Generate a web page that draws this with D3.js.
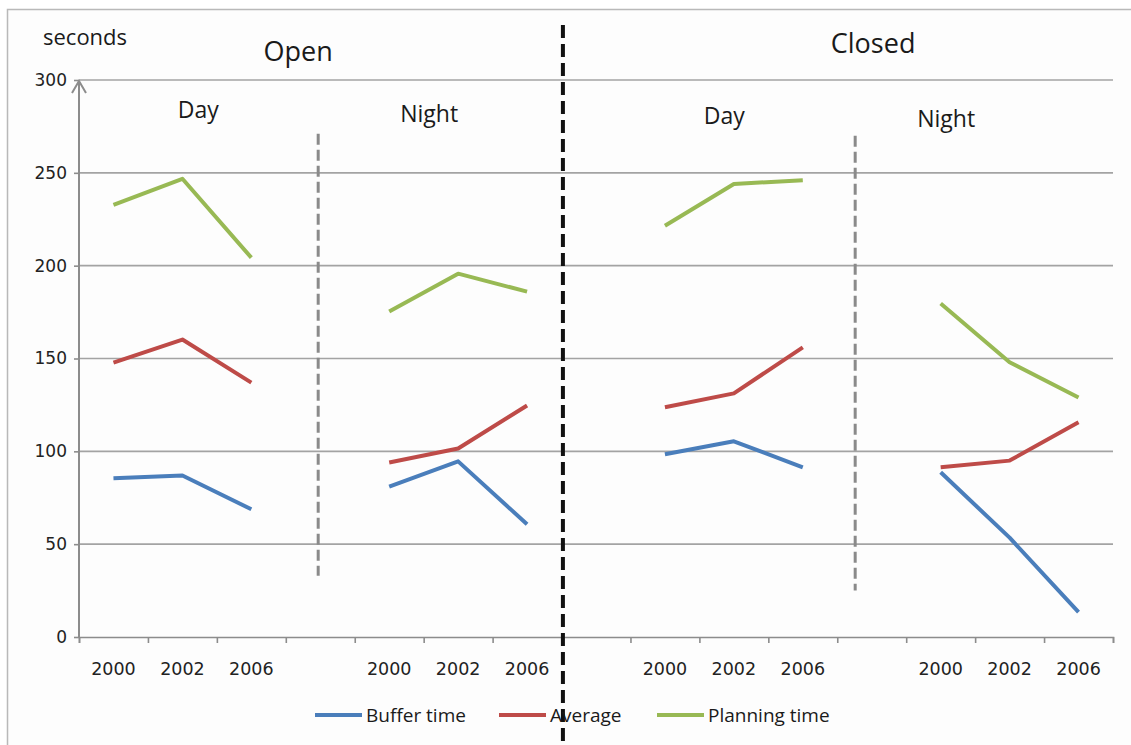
<!DOCTYPE html>
<html>
<head>
<meta charset="utf-8">
<script src="https://d3js.org/d3.v7.min.js"></script>
<style>
body { margin: 0; background: #fff; }
svg { display: block; }
.lbl { font-family: "Open Sans", sans-serif; fill: #1a1a1a; }
.tick text { font-family: "DejaVu Sans", sans-serif; fill: #222; }
</style>
</head>
<body>
<script>
// values (seconds)
var years = ["2000", "2002", "2006"];
var groups = ["Open Day", "Open Night", "Closed Day", "Closed Night"];
var groupStart = [0, 4, 8, 12];          // first slot of every group on the category axis
var nSlots = 15;

var buffer   = [[85.5, 87, 68.8], [81, 94.6, 60.7], [98.4, 105.4, 91.4], [88.7, 53.5, 13.4]];
var average  = [[147.8, 160.2, 137], [94, 101.5, 124.7], [123.7, 131.2, 156], [91.4, 95, 115.6]];
var planning = [[232.8, 246.8, 204.3], [175.3, 195.7, 186], [221.5, 244, 246], [179.6, 148, 129]];

var seriesNames = ["Buffer time", "Average", "Planning time"];
var seriesColors = ["#4a7ebb", "#be4b48", "#98b954"];
var yTicks = [0, 50, 100, 150, 200, 250, 300];

var width = 1131, height = 745;
var svg = d3.select("body").append("svg")
    .attr("width", width)
    .attr("height", height);

// chart frame
svg.append("rect")
    .attr("x", 7.5).attr("y", 9.5)
    .attr("width", 1200).attr("height", 800)
    .attr("fill", "#fdfdfd")
    .attr("stroke", "#b9b9b9")
    .attr("stroke-width", 1.5);

var x = d3.scaleLinear().domain([0, nSlots]).range([79, 1113]);
var y = d3.scaleLinear().domain([0, 300]).range([637, 80]);

// gridlines
svg.append("g").selectAll("line")
    .data(yTicks.slice(1))
    .enter().append("line")
    .attr("x1", x(0)).attr("x2", x(nSlots))
    .attr("y1", function(d){ return y(d); })
    .attr("y2", function(d){ return y(d); })
    .attr("stroke", "#a3a3a3")
    .attr("stroke-width", 1.6);

// y axis
var yAxis = svg.append("g")
    .attr("transform", "translate(" + x(0) + ",0)")
    .call(d3.axisLeft(y).tickValues(yTicks).tickSize(5).tickPadding(7));
yAxis.select(".domain").remove();
yAxis.selectAll(".tick line").attr("stroke", "#8c8c8c").attr("stroke-width", 1.6);
yAxis.selectAll(".tick text").attr("font-size", 17);

svg.append("line")
    .attr("x1", x(0)).attr("x2", x(0))
    .attr("y1", y(0) + 1).attr("y2", y(300) + 1)
    .attr("stroke", "#8c8c8c").attr("stroke-width", 2);
// arrow head
svg.append("path")
    .attr("d", d3.line()([[x(0) - 7, y(300) + 13], [x(0), y(300) + 1], [x(0) + 7, y(300) + 13]]))
    .attr("fill", "none")
    .attr("stroke", "#8c8c8c").attr("stroke-width", 2);

// x axis: ticks on the slot boundaries, labels in the middle of the slots
var xAxis = svg.append("g")
    .attr("transform", "translate(0," + y(0) + ")")
    .call(d3.axisBottom(x).tickValues(d3.range(nSlots + 1)).tickSize(6).tickFormat(""));
xAxis.select(".domain").attr("stroke", "#8c8c8c").attr("stroke-width", 1.6);
xAxis.selectAll(".tick line").attr("stroke", "#8c8c8c").attr("stroke-width", 1.6);

var slotLabels = [];
groupStart.forEach(function(s){
    years.forEach(function(yr, j){ slotLabels.push({slot: s + j, text: yr}); });
});
svg.append("g").selectAll("text")
    .data(slotLabels)
    .enter().append("text")
    .attr("x", function(d){ return x(d.slot + 0.5); })
    .attr("y", y(0) + 38)
    .attr("text-anchor", "middle")
    .attr("font-family", "DejaVu Sans, sans-serif")
    .attr("font-size", 17.5)
    .attr("fill", "#222")
    .text(function(d){ return d.text; });

// separators
function dashed(xv, y1, y2, color, w, dash) {
    svg.append("line")
        .attr("x1", x(xv)).attr("x2", x(xv))
        .attr("y1", y1).attr("y2", y2)
        .attr("stroke", color).attr("stroke-width", w)
        .attr("stroke-dasharray", dash);
}
dashed(3.47, y(271), y(33), "#8a8a8a", 3, "11,5");
dashed(11.26, y(270), y(25), "#8a8a8a", 3, "11,5");
dashed(7.02, 25, 745, "#111", 4, "13,6");

// lines
var line = d3.line()
    .x(function(d){ return x(d.slot + 0.5); })
    .y(function(d){ return y(d.v); });

[buffer, average, planning].forEach(function(series, si){
    series.forEach(function(vals, gi){
        var pts = vals.map(function(v, j){ return {slot: groupStart[gi] + j, v: v}; });
        svg.append("path")
            .datum(pts)
            .attr("d", line)
            .attr("fill", "none")
            .attr("stroke", seriesColors[si])
            .attr("stroke-width", 4)
            .attr("stroke-linejoin", "round");
    });
});

// titles
svg.append("text").attr("class", "lbl").attr("x", 43).attr("y", 45)
    .attr("font-size", 22).text("seconds");
svg.append("text").attr("class", "lbl").attr("x", x(3.18)).attr("y", 61)
    .attr("text-anchor", "middle").attr("font-size", 27).text("Open");
svg.append("text").attr("class", "lbl").attr("x", x(11.52)).attr("y", 53)
    .attr("text-anchor", "middle").attr("font-size", 27).text("Closed");

var subPos = [[1.73, 118], [5.08, 122], [9.36, 124], [12.58, 127]];
groups.forEach(function(g, i){
    svg.append("text").attr("class", "lbl")
        .attr("x", x(subPos[i][0])).attr("y", subPos[i][1])
        .attr("text-anchor", "middle").attr("font-size", 23)
        .text(g.split(" ")[1]);
});

// legend
var legX = [315, 499, 657];
seriesNames.forEach(function(n, i){
    var g = svg.append("g").attr("transform", "translate(" + legX[i] + ",715)");
    g.append("line").attr("x1", 0).attr("x2", 47)
        .attr("stroke", seriesColors[i]).attr("stroke-width", 4);
    g.append("text").attr("class", "lbl").attr("x", 51).attr("y", 7)
        .attr("font-size", 19).text(n);
});
</script>
</body>
</html>
